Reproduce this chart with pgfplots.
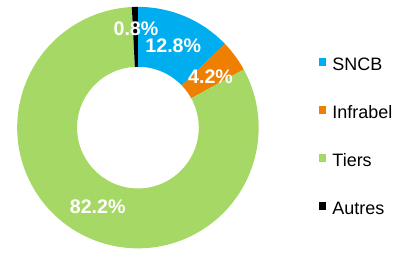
\documentclass[border=0pt]{standalone}
\usepackage{pgfplots}
\pgfplotsset{compat=1.18}
\usepackage{pgfplotstable}
\usepackage{fontspec}
\setmainfont{Liberation Sans}
\definecolor{cSNCB}{HTML}{00AEEF}
\definecolor{cInfra}{HTML}{EE7F00}
\definecolor{cTiers}{HTML}{A5D865}
\definecolor{cAutres}{HTML}{000000}

\pgfplotstableread{
name value
SNCB 12.8
Infrabel 4.2
Tiers 82.2
Autres 0.8
}\sharetable

\pgfplotstablegetelem{0}{value}\of\sharetable \let\vA\pgfplotsretval
\pgfplotstablegetelem{1}{value}\of\sharetable \let\vB\pgfplotsretval
\pgfplotstablegetelem{2}{value}\of\sharetable \let\vC\pgfplotsretval
\pgfplotstablegetelem{3}{value}\of\sharetable \let\vD\pgfplotsretval
\pgfmathsetmacro\aA{90}
\pgfmathsetmacro\aB{\aA-3.6*\vA}
\pgfmathsetmacro\aC{\aB-3.6*\vB}
\pgfmathsetmacro\aD{\aC-3.6*\vC}
\pgfmathsetmacro\aE{\aD-3.6*\vD}

\newcommand{\sector}[3]{% start, end, color
  \fill[#3] (axis cs:{133+123*cos(#1)},{135+123*sin(#1)}) arc[start angle=#1, end angle=#2, radius=123bp]
    -- (axis cs:{133+62*cos(#2)},{135+62*sin(#2)}) arc[start angle=#2, end angle=#1, radius=62bp] -- cycle;}

\begin{document}
\begin{tikzpicture}
\begin{axis}[
  x=1bp, y=1bp,
  xmin=0, xmax=400, ymin=0, ymax=265,
  hide axis, clip=false,
  scale only axis,
]
\path (axis cs:0,0) rectangle (axis cs:400,265);
\sector{\aA}{\aB}{cSNCB}
\sector{\aB}{\aC}{cInfra}
\sector{\aC}{\aD}{cTiers}
\sector{\aD}{\aE}{cAutres}

\begin{scope}[every node/.style={text=white, font=\fontsize{20bp}{24bp}\selectfont\bfseries, inner sep=0pt}]
\node at (axis cs:131,236) {0.8\%};
\node at (axis cs:169,218) {12.8\%};
\node at (axis cs:207,187) {4.2\%};
\node at (axis cs:92,54) {82.2\%};
\end{scope}

\fill[cSNCB]   (axis cs:317,198) rectangle (axis cs:325,206);
\fill[cInfra]  (axis cs:317,149) rectangle (axis cs:325,157);
\fill[cTiers]  (axis cs:317,100) rectangle (axis cs:325,108);
\fill[cAutres] (axis cs:317,51)  rectangle (axis cs:325,59);
\begin{scope}[every node/.style={anchor=base west, inner sep=0pt, font=\fontsize{18.3bp}{22bp}\selectfont}]
\node at (axis cs:331,193) {SNCB};
\node at (axis cs:331,144) {Infrabel};
\node at (axis cs:331,95) {Tiers};
\node at (axis cs:331,46) {Autres};
\end{scope}
\end{axis}
\end{tikzpicture}
\end{document}
